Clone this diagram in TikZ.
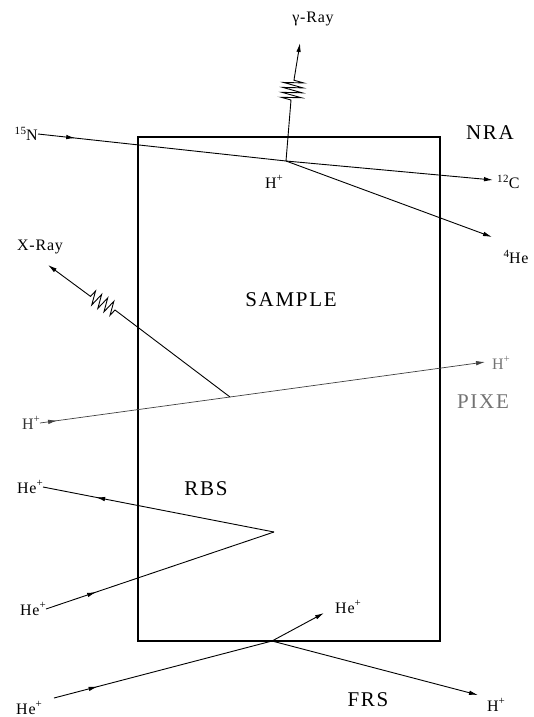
\documentclass[tikz,border=0pt]{standalone}
\usepackage{fontspec}
\setmainfont{Liberation Serif}
\usetikzlibrary{arrows.meta,decorations.pathmorphing,decorations.markings}
\newcommand{\supmark}[1]{\raisebox{0.42em}{\fontsize{11}{11}\selectfont #1}}
\tikzset{
  ray/.style={line width=0.9pt},
  faintray/.style={line width=0.7pt, black!75},
  endtip/.style={-{Latex[length=9pt,width=4.5pt]}},
  midarrow/.style={postaction={decorate},
    decoration={markings, mark=at position #1 with {\arrow{Latex[length=9pt,width=4.5pt]}}}},
  biglabel/.style={font=\fontsize{21}{24}\selectfont\addfontfeature{LetterSpace=8}, inner sep=0pt},
  smalllabel/.style={font=\fontsize{16}{18}\selectfont\addfontfeature{LetterSpace=5}, inner sep=0pt},
  zig/.style 2 args={decoration={zigzag, segment length=#1, amplitude=#2}},
}
\begin{document}
\begin{tikzpicture}[x=1pt,y=-1pt]
\useasboundingbox (0,0) rectangle (534,717);
% sample box
\node[draw, line width=1.8pt, minimum width=302pt, minimum height=504pt, inner sep=0pt, outer sep=0pt] (box) at (289,389) {};
\node[biglabel] (sample) at (291,300) {SAMPLE};

% ---------- NRA ----------
\node[biglabel] (nra) at (490,133) {NRA};
\node[smalllabel, anchor=east] (n15) at (38,134) {\supmark{15}N};
\coordinate (nraip) at (286,161);
\node[smalllabel, anchor=west] (c12) at (497,182) {\supmark{12}C};
\node[smalllabel] (he4) at (516,257) {\supmark{4}He};
\node[smalllabel] (hnra) at (274,182) {H\supmark{+}};
\node[smalllabel] (gray) at (313,19) {γ-Ray};
\coordinate (ctip) at (493,180);
\coordinate (hetip) at (492,237);
\coordinate (g1) at (291,100);
\coordinate (g2) at (294,80);
\coordinate (gtip) at (300,43);
\draw[ray, midarrow=0.15] (n15.east) -- (nraip);
\draw[ray, endtip] (nraip) -- (ctip);
\draw[ray, endtip] (nraip) -- (hetip);
\draw[ray, endtip] (nraip) -- (g1) decorate[zig={5pt}{10pt}] {-- (g2)} -- (gtip);

% ---------- PIXE ----------
\node[smalllabel] (xray) at (40,247) {X-Ray};
\node[smalllabel, anchor=east, black!80] (hpl) at (40,423) {H\supmark{+}};
\node[smalllabel, black!55] (hpr) at (501,363) {H\supmark{+}};
\node[biglabel, black!55] (pixe) at (483,402) {PIXE};
\coordinate (pixeip) at (230,397);
\coordinate (ptip) at (485,362);
\coordinate (x1) at (115,310);
\coordinate (x2) at (90,296);
\coordinate (xtip) at (48,265);
\draw[faintray, midarrow=0.09] (hpl.east) -- (pixeip);
\draw[faintray, endtip] (pixeip) -- (ptip);
\draw[ray, endtip] (pixeip) -- (x1) decorate[zig={7pt}{7pt}] {-- (x2)} -- (xtip);

% ---------- RBS ----------
\node[biglabel] (rbs) at (206,489) {RBS};
\node[smalllabel, anchor=east] (herbs1) at (43,487) {He\supmark{+}};
\node[smalllabel, anchor=east] (herbs2) at (46,609) {He\supmark{+}};
\coordinate (rbsip) at (274,532);
\draw[ray, midarrow=0.22] (herbs2.east) -- (rbsip);
\draw[ray, midarrow=0.77] (rbsip) -- (herbs1.east);

% ---------- FRS ----------
\node[biglabel] (frs) at (368,700) {FRS};
\node[smalllabel] (hefrs1) at (29,708) {He\supmark{+}};
\node[smalllabel] (hefrs2) at (348,607) {He\supmark{+}};
\node[smalllabel] (hfrs) at (496,705) {H\supmark{+}};
\coordinate (frsip) at (272,641);
\coordinate (frsin) at (54,698);
\coordinate (hetip2) at (324,613);
\coordinate (htip2) at (478,695);
\draw[ray, midarrow=0.2] (frsin) -- (frsip);
\draw[ray, endtip] (frsip) -- (hetip2);
\draw[ray, endtip] (frsip) -- (htip2);
\end{tikzpicture}
\end{document}
